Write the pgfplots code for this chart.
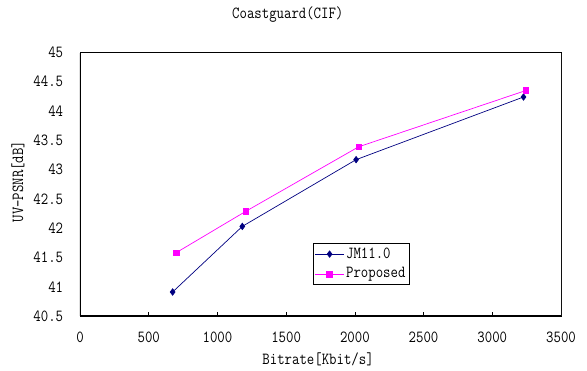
\documentclass[border=0pt]{standalone}
\usepackage{fontspec}
\setmonofont{Latin Modern Mono}[FakeStretch=0.85]
\usepackage{pgfplots}
\pgfplotsset{compat=1.18}
\renewcommand{\familydefault}{\ttdefault}
\definecolor{navyc}{RGB}{0,0,128}
\definecolor{magc}{RGB}{255,0,255}
\newcommand{\cf}{\ttfamily\fontsize{17pt}{19pt}\selectfont}
\begin{document}
\cf
\begin{tikzpicture}
\useasboundingbox (-80bp,-55bp) rectangle (507bp,316bp);
\begin{axis}[
  at={(0,0)}, anchor=south west,
  scale only axis,
  width=481bp, height=263.5bp,
  xmin=0, xmax=3500, ymin=40.5, ymax=45,
  xtick={0,500,...,3500},
  ytick={40.5,41,...,45},
  scaled ticks=false,
  /pgf/number format/assume math mode=true,
  /pgf/number format/1000 sep={},
  tick align=inside,
  xtick pos=bottom, ytick pos=left,
  major tick length=4bp,
  ytick style={draw=none},
  xtick style={black, line width=0.6pt},
  axis line style={line width=0.6pt},
  tick label style={font=\cf},
  xticklabel style={anchor=center, yshift=-21bp},
  yticklabel style={anchor=east, xshift=-11bp},
  title={Coastguard(CIF)},
  title style={at={(rel axis cs:0.432,1)}, anchor=center, yshift=31.5bp, font=\cf},
  xlabel={Bitrate[Kbit/s]},
  xlabel style={at={(rel axis cs:0.495,0)}, anchor=center, yshift=-43bp, font=\cf},
  ylabel={UV-PSNR[dB]},
  ylabel style={at={(rel axis cs:0,0.51)}, anchor=center, yshift=62bp, font=\cf},
  legend style={at={(rel axis cs:0.484,0.276)}, anchor=north west, draw=black, line width=0.6pt, fill=white,
    font=\cf, inner sep=2bp, row sep=3bp, cells={anchor=west}},
  legend image code/.code={\draw[mark repeat=2,mark phase=2] plot coordinates {(0cm,0cm) (0.5cm,0cm) (1.0cm,0cm)};},
  legend cell align=left,
]
\addplot[color=navyc, line width=0.7pt, mark=diamond*, mark size=3.2bp, mark options={fill=navyc, draw=navyc}]
  coordinates {(674,40.91) (1181,42.03) (2009,43.17) (3227,44.24)};
\addlegendentry{JM11.0}
\addplot[color=magc, line width=0.7pt, mark=square*, mark size=2.8bp, mark options={fill=magc, draw=magc}]
  coordinates {(699,41.58) (1208,42.29) (2028,43.39) (3243,44.35)};
\addlegendentry{Proposed}
\draw[black, line width=1.4pt] (rel axis cs:0,1) -- (rel axis cs:0,0) -- (rel axis cs:1,0);
\draw[gray, line width=1pt] (rel axis cs:1,0) -- (rel axis cs:1,1);
\end{axis}
\end{tikzpicture}
\end{document}
